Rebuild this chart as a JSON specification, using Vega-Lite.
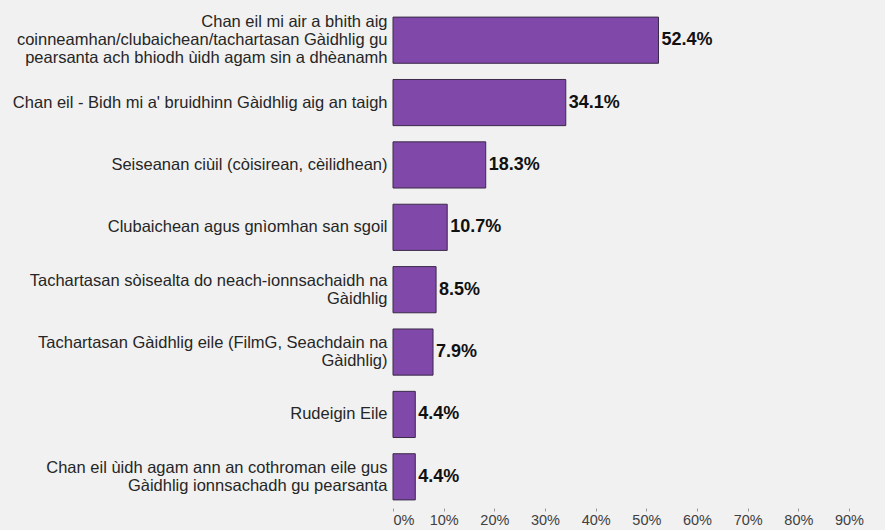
{
  "$schema": "https://vega.github.io/schema/vega-lite/v6.json",
  "autosize": {"type": "none"},
  "width": 456,
  "height": 499,
  "padding": {"left": 393, "top": 9, "right": 36, "bottom": 22},
  "background": "#f1f1f1",
  "data": {
    "values": [
      {"label": "Chan eil mi air a bhith  aig|coinneamhan/clubaichean/tachartasan Gàidhlig gu|pearsanta ach bhiodh ùidh agam sin a dhèanamh", "pct": 0.524, "txt": "52.4%"},
      {"label": "Chan eil - Bidh mi a' bruidhinn Gàidhlig aig an taigh", "pct": 0.341, "txt": "34.1%"},
      {"label": "Seiseanan ciùil (còisirean, cèilidhean)", "pct": 0.183, "txt": "18.3%"},
      {"label": "Clubaichean agus gnìomhan san sgoil", "pct": 0.107, "txt": "10.7%"},
      {"label": "Tachartasan sòisealta do neach-ionnsachaidh na|Gàidhlig", "pct": 0.085, "txt": "8.5%"},
      {"label": "Tachartasan Gàidhlig eile (FilmG, Seachdain na|Gàidhlig)", "pct": 0.079, "txt": "7.9%"},
      {"label": "Rudeigin Eile", "pct": 0.044, "txt": "4.4%"},
      {"label": "Chan eil ùidh agam ann an cothroman eile gus|Gàidhlig ionnsachadh gu pearsanta", "pct": 0.044, "txt": "4.4%"}
    ]
  },
  "encoding": {
    "y": {
      "field": "label",
      "type": "nominal",
      "sort": null,
      "scale": {"paddingInner": 0.26, "paddingOuter": 0.13},
      "axis": {
        "title": null,
        "domain": false,
        "ticks": false,
        "labelExpr": "split(datum.label, '|')",
        "labelBaseline": "middle",
        "labelOffset": {"expr": "-(length(split(datum.label, '|')) - 1) * 9.15"},
        "labelFont": "Liberation Sans",
        "labelFontSize": 16.5,
        "labelLineHeight": 18.3,
        "labelColor": "#262626",
        "labelPadding": 6,
        "labelLimit": 420
      }
    },
    "x": {
      "field": "pct",
      "type": "quantitative",
      "scale": {"domain": [0, 0.9], "nice": false},
      "axis": {
        "title": null,
        "format": ".0%",
        "values": [0, 0.1, 0.2, 0.3, 0.4, 0.5, 0.6, 0.7, 0.8, 0.9],
        "domain": false,
        "grid": false,
        "labelFlush": false,
        "labelAlign": {"condition": {"test": "datum.value == 0", "value": "left"}, "value": "center"},
        "tickSize": 3,
        "tickColor": "#999999",
        "labelFont": "Liberation Sans",
        "labelFontSize": 14.5,
        "labelColor": "#404040",
        "labelPadding": 2
      }
    }
  },
  "layer": [
    {
      "mark": {"type": "bar", "color": "#8048a8", "stroke": "#3a2a48", "strokeWidth": 1}
    },
    {
      "mark": {"type": "text", "align": "left", "dx": 3, "font": "Liberation Sans", "fontSize": 18, "fontWeight": "bold", "color": "#111111"},
      "encoding": {"text": {"field": "txt"}}
    }
  ],
  "config": {"view": {"stroke": null}}
}
